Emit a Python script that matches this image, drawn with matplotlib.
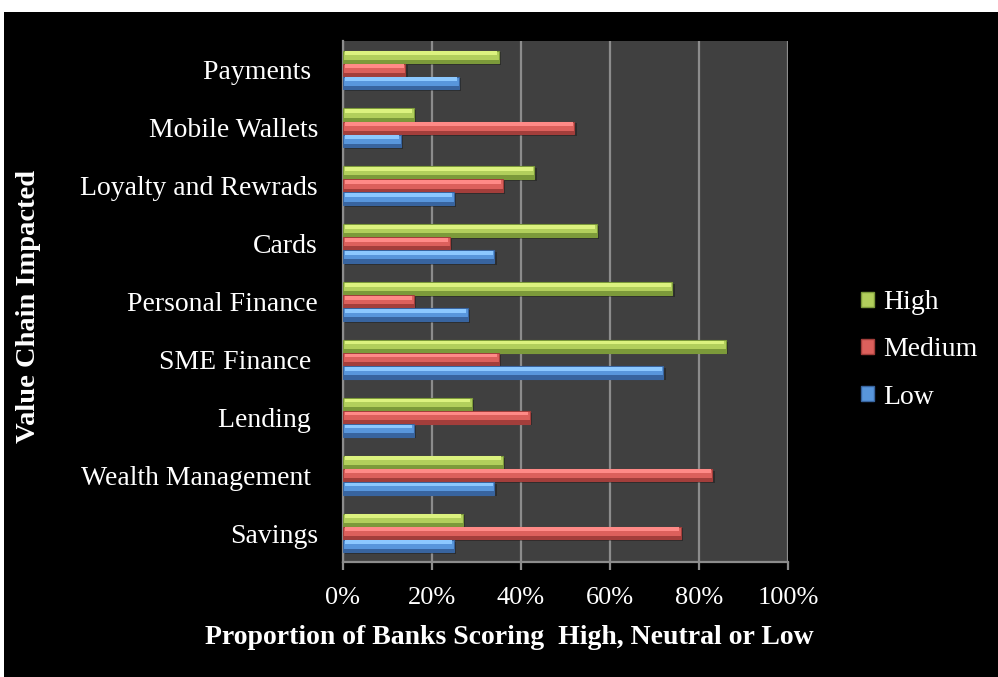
import matplotlib
matplotlib.use("Agg")

import matplotlib.pyplot as plt
import numpy as np
from matplotlib.patches import Rectangle, Patch
from matplotlib.ticker import PercentFormatter

# ---------------------------------------------------------------------------
# DATA (bottom to top)
# ---------------------------------------------------------------------------

categories = [
    "Savings",
    "Wealth Management ",
    "Lending ",
    "SME Finance ",
    "Personal Finance",
    "Cards",
    "Loyalty and Rewrads",
    "Mobile Wallets",
    "Payments ",
]
high = [27, 36, 29, 86, 74, 57, 43, 16, 35]
medium = [76, 83, 42, 35, 16, 24, 36, 52, 14]
low = [25, 34, 16, 72, 28, 34, 25, 13, 26]

series_names = ["High", "Medium", "Low"]

# ---------------------------------------------------------------------------
# STYLE
# ---------------------------------------------------------------------------

plt.rcParams["font.family"] = ["Liberation Serif", "DejaVu Serif"]

# (mid, light top, dark bottom)
colors = {
    "High": ("#b2cf5c", "#dcf27f", "#7c9a3a"),
    "Medium": ("#dc605c", "#ff8a87", "#a33e3b"),
    "Low": ("#5896dc", "#8cc8ff", "#38649f"),
}

fig = plt.figure(figsize=(9.98, 6.77), dpi=100)
fig.patch.set_facecolor("white")
fig.patches.append(
    Rectangle((4 / 998, 0), 1, 1 - 12 / 677, transform=fig.transFigure,
              facecolor="black", edgecolor="none", zorder=-10)
)

ax = fig.add_axes([343 / 998, 1 - 562 / 677, 445 / 998, 521 / 677])
ax.set_facecolor("#404040")

y = np.arange(len(categories))
h = 0.225
bh = h * 0.97
offsets = {"High": h, "Medium": 0.0, "Low": -h}
values = {"High": high, "Medium": medium, "Low": low}

for name in series_names:
    mid, light, dark = colors[name]
    vals = np.array(values[name])
    yy = y + offsets[name]
    # drop shadow
    ax.barh(yy - 0.03, vals, height=bh, left=0.5, color="black",
            alpha=0.3, zorder=2)
    # body
    ax.barh(yy, vals, height=bh, color=mid, edgecolor=dark,
            linewidth=0.8, zorder=3)
    # bottom shade
    ax.barh(yy - bh * 0.36, vals, height=bh * 0.28, color=dark,
            edgecolor="none", zorder=4)
    # top highlight
    ax.barh(yy + bh * 0.3, vals - 0.8, height=bh * 0.3, left=0.4,
            color=light, edgecolor="none", zorder=4)

ax.set_xlim(0, 100)
ax.set_ylim(-0.5, len(categories) - 0.5)
ax.xaxis.set_major_formatter(PercentFormatter(decimals=0))
ax.set_xticks(np.arange(0, 101, 20))
ax.set_yticks(y)
ax.set_yticklabels(categories)

ax.grid(axis="x", color="#8c8c8c", linewidth=1.6, zorder=1)
ax.set_axisbelow(True)

for side in ["top", "right"]:
    ax.spines[side].set_visible(False)
for side in ["left", "bottom"]:
    ax.spines[side].set_color("#8c8c8c")
    ax.spines[side].set_linewidth(1.6)

ax.tick_params(axis="y", length=0, pad=18, labelsize=20, colors="white")
ax.tick_params(axis="x", length=6, width=1.6, color="#8c8c8c", pad=12,
               labelsize=19, labelcolor="white")

fig.text(509 / 998, 1 - 638 / 677,
         "Proportion of Banks Scoring  High, Neutral or Low",
         fontsize=20, fontweight="bold", color="white",
         ha="center", va="center")
fig.text(29 / 998, 1 - 306 / 677, "Value Chain Impacted", rotation=90,
         fontsize=20.5, fontweight="bold", color="white",
         ha="center", va="center")

handles = [Patch(facecolor=colors[n][0], edgecolor=colors[n][2], label=n)
           for n in series_names]
leg = fig.legend(handles=handles, loc="center left",
                 bbox_to_anchor=(836 / 998, 1 - 350 / 677), frameon=False,
                 fontsize=20, labelcolor="white", handlelength=0.45,
                 handleheight=0.45, handletextpad=0.35, labelspacing=0.8)

fig.savefig("out.png", dpi=100)
